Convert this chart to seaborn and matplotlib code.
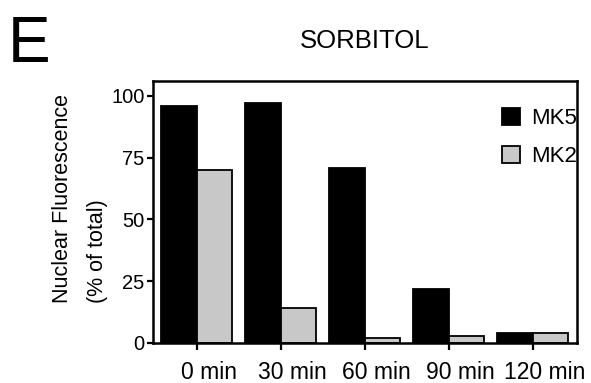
import pandas as pd
import seaborn as sns
from matplotlib import pyplot as plt
from matplotlib.transforms import ScaledTranslation

times = ["0 min", "30 min", "60 min", "90 min", "120 min"]
mk5 = [96, 97, 71, 22, 4]
mk2 = [70, 14, 2, 3, 4]
series = ["MK5", "MK2"]
colors = {"MK5": "black", "MK2": "#c8c8c8"}
y_ticks = [0, 25, 50, 75, 100]

df = pd.DataFrame({
    "time": times * 2,
    "series": ["MK5"] * len(times) + ["MK2"] * len(times),
    "value": mk5 + mk2,
})

sns.set_style("ticks")
plt.rcParams["font.family"] = ["Liberation Sans", "DejaVu Sans"]
plt.rcParams["text.color"] = "black"

fig = plt.figure(figsize=(5.91, 3.83), dpi=100)
ax = fig.add_axes([153 / 591, 40 / 383, 424 / 591, 262 / 383])

sns.barplot(data=df, x="time", y="value", hue="series", hue_order=series,
            palette=colors, saturation=1, width=0.84, edgecolor="black",
            linewidth=1.3, ax=ax)

ax.set_xlim(-0.52, 4.53)
ax.set_ylim(0, 106)
ax.set_yticks(y_ticks)
ax.set_xlabel("")
ax.set_ylabel("")
ax.tick_params(axis="both", direction="out", width=1.6, colors="black")
ax.tick_params(axis="x", length=5, pad=8, labelsize=16.5)
ax.tick_params(axis="y", length=4, pad=2, labelsize=14.5)
# the x labels sit a little right of their ticks in the original
shift = ScaledTranslation(12 / 100, 0, fig.dpi_scale_trans)
for label in ax.get_xticklabels():
    label.set_transform(label.get_transform() + shift)
for spine in ax.spines.values():
    spine.set_visible(True)
    spine.set_linewidth(1.8)
    spine.set_color("black")

handles, labels = ax.get_legend_handles_labels()
ax.get_legend().remove()
fig.legend(handles, labels, loc="upper left", bbox_to_anchor=(502 / 591, 1 - 108 / 383),
           frameon=False, fontsize=16, handlelength=0.8, handleheight=0.8,
           handletextpad=0.5, labelspacing=0.75, borderpad=0, borderaxespad=0)

ax.set_title("SORBITOL", fontsize=18.5, pad=24, color="black")
fig.text(8 / 591, 1 - 62 / 383, "E", fontsize=46, va="baseline", ha="left", color="black")
fig.text(63 / 591, 1 - 303 / 383, "Nuclear Fluorescence", rotation=90,
         fontsize=15.5, ha="center", va="bottom", color="black")
fig.text(97 / 591, 1 - 303 / 383, "(% of total)", rotation=90,
         fontsize=15.5, ha="center", va="bottom", color="black")

fig.savefig("out.png", dpi=100)
